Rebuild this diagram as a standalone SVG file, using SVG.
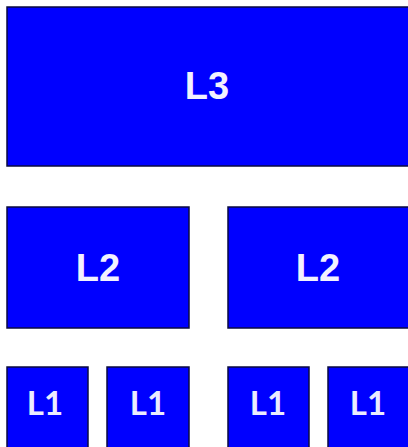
<svg xmlns="http://www.w3.org/2000/svg" width="408" height="447" viewBox="0 0 408 447">
<style>
.box{fill:#0000ff;stroke:#0a0a40;stroke-width:1.5}
.big{font-family:"Liberation Sans",Arial,sans-serif;font-weight:bold;font-size:38px;fill:#f2f2ff;text-anchor:middle}
.small{font-family:Lato,"Open Sans",sans-serif;font-weight:bold;font-size:33px;fill:#ececff;text-anchor:middle}
</style>
<rect width="408" height="447" fill="#ffffff"/>
<g id="connectors"></g>
<g id="L3"><rect class="box" x="7" y="7" width="405" height="159"/><text class="big" x="207" y="99">L3</text></g>
<g id="L2a"><rect class="box" x="7" y="207" width="182" height="121"/><text class="big" x="98" y="281">L2</text></g>
<g id="L2b"><rect class="box" x="228" y="207" width="184" height="121"/><text class="big" x="318" y="281">L2</text></g>
<g id="L1a"><rect class="box" x="7" y="367" width="81" height="85"/><text class="small" x="45" y="415">L1</text></g>
<g id="L1b"><rect class="box" x="107" y="367" width="82" height="85"/><text class="small" x="148" y="415">L1</text></g>
<g id="L1c"><rect class="box" x="228" y="367" width="81" height="85"/><text class="small" x="268" y="415">L1</text></g>
<g id="L1d"><rect class="box" x="328" y="367" width="84" height="85"/><text class="small" x="368" y="415">L1</text></g>
</svg>
